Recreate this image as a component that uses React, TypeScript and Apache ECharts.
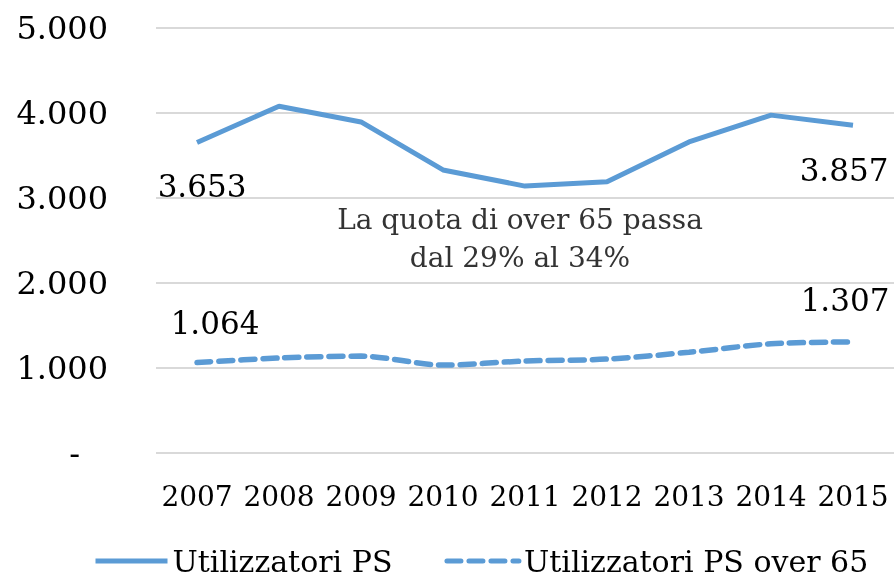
import React, { useEffect, useRef } from "react";
import * as echarts from "echarts";

const years = ["2007", "2008", "2009", "2010", "2011", "2012", "2013", "2014", "2015"];
const utilizzatori = [3653, 4080, 3895, 3330, 3140, 3190, 3660, 3975, 3857];
const over65 = [1064, 1118, 1140, 1035, 1082, 1105, 1185, 1285, 1307];
const seriesNames = ["Utilizzatori PS", "Utilizzatori PS over 65"];
const note = "La quota di over 65 passa\ndal 29% al 34%";

const FONT = "DejaVu Serif";
const BLUE = "#5B9BD5";

const fmt = (v: number) => String(v).replace(/\B(?=(\d{3})+(?!\d))/g, ".");

export default function App() {
  const ref = useRef<HTMLDivElement>(null);
  useEffect(() => {
    const chart = echarts.init(ref.current!, null, { renderer: "svg" });
    const last = years.length - 1;
    const lbl = {
      show: true,
      fontFamily: FONT,
      fontSize: 31,
      color: "#000",
      opacity: 1,
      formatter: (p: any) => fmt(p.value[1]),
    };
    chart.setOption({
      animation: false,
      textStyle: { fontFamily: FONT },
      grid: { left: 156, right: 0, top: 28, bottom: 128 },
      xAxis: {
        type: "category",
        data: years,
        boundaryGap: true,
        axisLine: { show: false },
        axisTick: { show: false },
        axisLabel: { fontFamily: FONT, fontSize: 28, color: "#000", margin: 29, interval: 0 },
      },
      yAxis: {
        type: "value",
        min: 0,
        max: 5000,
        interval: 1000,
        axisLine: { show: false },
        axisTick: { show: false },
        splitLine: { lineStyle: { color: "#d9d9d9", width: 2 } },
        axisLabel: {
          fontFamily: FONT,
          fontSize: 32,
          color: "#000",
          margin: 48,
          formatter: (v: number) => (v === 0 ? "{z|-}" : fmt(v)),
          rich: { z: { fontFamily: FONT, fontSize: 32, color: "#000", padding: [0, 28, 0, 0] } },
        },
      },
      legend: {
        bottom: 0,
        left: 88,
        itemWidth: 72,
        itemHeight: 14,
        itemGap: 52,
        lineStyle: { width: 5 },
        itemStyle: { opacity: 0 },
        textStyle: { fontFamily: FONT, fontSize: 30, color: "#000" },
        data: seriesNames,
      },
      graphic: [
        {
          type: "text",
          x: 520,
          y: 200,
          style: {
            text: note,
            fontFamily: FONT,
            fontSize: 28,
            fill: "#333",
            align: "center",
            verticalAlign: "top",
            lineHeight: 38,
          },
        },
      ],
      series: [
        {
          name: seriesNames[0],
          type: "line",
          symbol: "none",
          lineStyle: { color: BLUE, width: 5 },
          itemStyle: { color: BLUE },
          data: utilizzatori,
        },
        {
          name: seriesNames[1],
          type: "line",
          symbol: "none",
          smooth: 0.3,
          lineStyle: { color: BLUE, width: 5.5, type: [14, 8], cap: "round" },
          itemStyle: { color: BLUE },
          data: over65,
        },
        {
          type: "scatter",
          symbolSize: 0,
          silent: true,
          itemStyle: { opacity: 1 },
          data: [
            { value: [0, utilizzatori[0]], label: { ...lbl, position: "bottom", distance: 28, offset: [5, 0] } },
            { value: [last, utilizzatori[last]], label: { ...lbl, position: "bottom", distance: 29, offset: [-9, 0] } },
            { value: [0, over65[0]], label: { ...lbl, position: "top", distance: 24, offset: [18, 0] } },
            { value: [last, over65[last]], label: { ...lbl, position: "top", distance: 26, offset: [-8, 0] } },
          ],
        },
      ],
    });
    return () => chart.dispose();
  }, []);
  return <div ref={ref} style={{ position: "fixed", left: 0, top: 0, width: 894, height: 581 }} />;
}
